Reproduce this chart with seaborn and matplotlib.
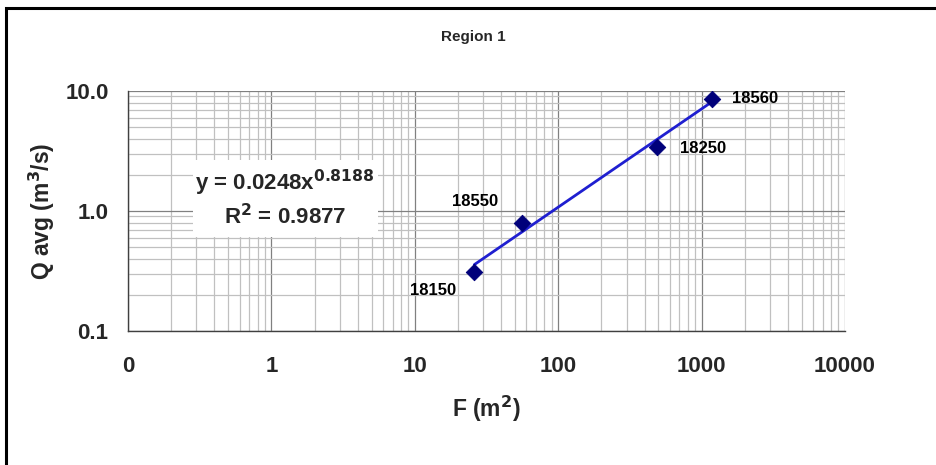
import numpy as np
import pandas as pd
import matplotlib
matplotlib.use("Agg")
import matplotlib.pyplot as plt
import matplotlib.ticker as mticker
from matplotlib.patches import Rectangle
import seaborn as sns

# ---- data ----
stations = ["18150", "18550", "18250", "18560"]
area_f = [26.0, 56.0, 490.0, 1175.0]
q_avg = [0.31, 0.80, 3.40, 8.6]
fit_coef = 0.0248
fit_exp = 0.8188
fit_r2 = 0.9877
x_tick_vals = [0.1, 1, 10, 100, 1000, 10000]
x_tick_labels = ["0", "1", "10", "100", "1000", "10000"]
y_tick_vals = [0.1, 1.0, 10.0]
y_tick_labels = ["0.1", "1.0", "10.0"]

sns.set_theme(style="white")
plt.rcParams['font.family'] = ['Liberation Sans', 'DejaVu Sans']

df = pd.DataFrame({"F": area_f, "Q": q_avg, "station": stations})
xs = np.geomspace(min(area_f), max(area_f), 100)
trend = pd.DataFrame({"F": xs, "Q": fit_coef * xs ** fit_exp})

fig = plt.figure(figsize=(9.37, 4.65), dpi=100)
ax = fig.add_axes([128/937, 1-331/465, (845-128)/937, (331-91)/465])
ax.set_xscale("log")
ax.set_yscale("log")
ax.set_xlim(0.1, 10000)
ax.set_ylim(0.1, 10)

ax.xaxis.set_minor_locator(mticker.LogLocator(base=10, subs=np.arange(2, 10)))
ax.yaxis.set_minor_locator(mticker.LogLocator(base=10, subs=np.arange(2, 10)))
ax.grid(True, which="minor", color="#c0c0c0", linewidth=0.9)
ax.grid(True, which="major", color="#808080", linewidth=0.9)
ax.set_axisbelow(True)

sns.lineplot(data=trend, x="F", y="Q", ax=ax, color="#1f1fd0", linewidth=2, zorder=3)
sns.scatterplot(data=df, x="F", y="Q", ax=ax, marker="D", s=70, color="#00007a",
                edgecolor="#00007a", zorder=4)

offsets = {"18150": (-18, -18, "right"), "18550": (-24, 21, "right"),
           "18250": (23, -1, "left"), "18560": (20, 0, "left")}
for s, xv, yv in zip(stations, area_f, q_avg):
    dx, dy, ha = offsets[s]
    ax.annotate(s, (xv, yv), xytext=(dx, dy), textcoords="offset pixels",
                ha=ha, va="center", fontsize=12, fontweight="bold", color="black")

ax.set_xticks(x_tick_vals)
ax.set_xticklabels(x_tick_labels)
ax.set_yticks(y_tick_vals)
ax.set_yticklabels(y_tick_labels)
ax.tick_params(axis="x", which="major", length=4, direction="out", pad=14,
               labelsize=16, color="#404040")
ax.tick_params(axis="y", which="major", length=4, direction="out", pad=10,
               labelsize=16, color="#404040")
ax.tick_params(which="minor", length=0)
for lab in ax.get_xticklabels() + ax.get_yticklabels():
    lab.set_fontweight("bold")

for side in ["top", "right"]:
    ax.spines[side].set_visible(False)
for side in ["left", "bottom"]:
    ax.spines[side].set_color("#404040")
    ax.spines[side].set_linewidth(1.0)

ax.set_xlabel("F (m$^\\mathbf{2}$)", fontsize=16.5, fontweight="bold", labelpad=12)
ax.set_ylabel("Q avg (m$^\\mathbf{3}$/s)", fontsize=16.5, fontweight="bold", labelpad=6)

# equation box
ax_box = Rectangle((193/937, 1-237/465), 185/937, 77/465, transform=fig.transFigure,
                   facecolor="white", edgecolor="none", zorder=5)
fig.patches.append(ax_box)
fig.text(285/937, 1-183/465, "y = 0.0248x$^{\\mathbf{0.8188}}$", ha="center", va="center",
         fontsize=16, fontweight="bold", zorder=6)
fig.text(285/937, 1-217/465, "R$^\\mathbf{2}$ = 0.9877", ha="center", va="center",
         fontsize=16, fontweight="bold", zorder=6)

fig.text(473/937, 1-37/465, "Region 1", ha="center", va="center", fontsize=11,
         fontweight="bold")

border = Rectangle((6/937, -0.1), 1.1, 1.1 - 8/465, transform=fig.transFigure,
                   facecolor="none", edgecolor="black", linewidth=2.2, zorder=10)
fig.patches.append(border)

fig.savefig("out.png", dpi=100)
